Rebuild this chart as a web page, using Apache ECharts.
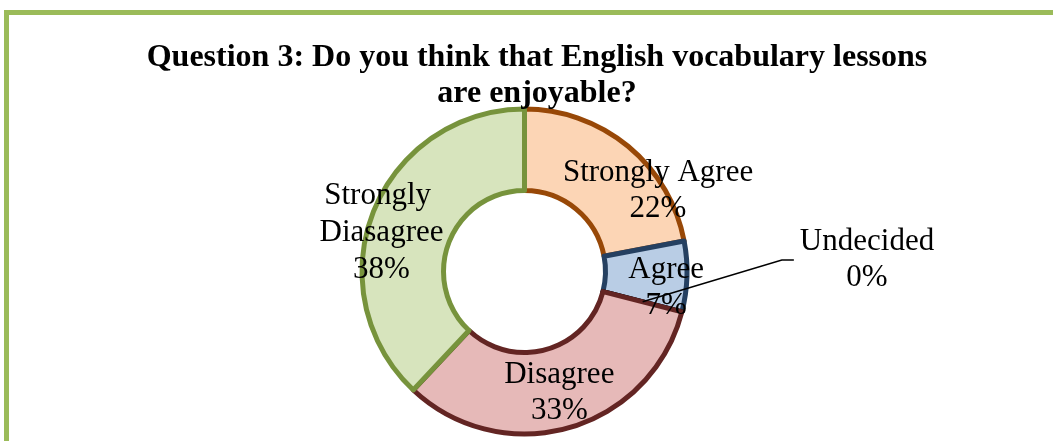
<!DOCTYPE html>
<html>
<head>
<meta charset="utf-8">
<script src="https://cdn.jsdelivr.net/npm/echarts@6/dist/echarts.min.js"></script>
<style>
  html, body { margin: 0; padding: 0; background: #ffffff; }
  #chart { width: 1053px; height: 441px; }
</style>
</head>
<body>
<div id="chart"></div>
<script>
// ---- data ----
const titleText = 'Question 3: Do you think that English vocabulary lessons\nare enjoyable?';
const categories = ['Strongly Agree', 'Agree', 'Undecided', 'Disagree', 'Strongly Diasagree'];
const values = [22, 7, 0, 33, 38];

// ---- styles ----
const fills = ['#FCD5B5', '#B9CDE5', '#FFFFFF', '#E6B9B8', '#D7E4BD'];
const borders = ['#984807', '#254061', '#000000', '#632523', '#77933C'];
const labelDx = [54, 17, 0, 0, -27];
const labelDy = [15, 12, 0, 2, 7];
const FONT = '"Liberation Serif", "Times New Roman", serif';

const mainData = categories.map((name, i) => ({
  name: name,
  value: values[i],
  itemStyle: { color: fills[i], borderColor: borders[i] },
  label: name === 'Strongly Diasagree'
    ? { show: true, width: 150, overflow: 'break', lineHeight: 37 }
    : { show: name !== 'Undecided' }
}));

const overlayData = categories.map((name, i) => ({
  name: name,
  value: values[i],
  label: { show: name === 'Undecided' },
  labelLine: { show: name === 'Undecided' }
}));

const chart = echarts.init(document.getElementById('chart'), null, { renderer: 'canvas' });
chart.setOption({
  backgroundColor: '#ffffff',
  animation: false,
  title: {
    text: titleText,
    left: 537,
    top: 40,
    textAlign: 'center',
    padding: 0,
    textStyle: {
      fontFamily: FONT,
      fontWeight: 'bold',
      fontSize: 32,
      lineHeight: 36,
      color: '#000000'
    }
  },
  graphic: [{
    type: 'rect',
    silent: true,
    shape: { x: 6.5, y: 12.5, width: 1200, height: 600 },
    style: { fill: 'none', stroke: '#9BBB59', lineWidth: 5 }
  }],
  series: [
    {
      type: 'pie',
      center: [524.5, 271.5],
      radius: [81, 162.5],
      startAngle: 90,
      clockwise: true,
      silent: true,
      avoidLabelOverlap: false,
      itemStyle: { borderWidth: 5 },
      label: {
        position: 'inside',
        formatter: '{b}\n{d}%',
        fontFamily: FONT,
        fontSize: 31,
        lineHeight: 36,
        color: '#000000',
        align: 'center'
      },
      labelLine: { show: false },
      labelLayout: function (p) {
        return { dx: labelDx[p.dataIndex], dy: labelDy[p.dataIndex] };
      },
      data: mainData
    },
    {
      type: 'pie',
      center: [524.5, 271.5],
      radius: [0, 122],
      startAngle: 90,
      clockwise: true,
      silent: true,
      z: 5,
      avoidLabelOverlap: false,
      itemStyle: { color: 'rgba(0,0,0,0)', borderWidth: 0 },
      label: {
        position: 'outside',
        formatter: '{b}\n{d}%',
        fontFamily: FONT,
        fontSize: 31,
        lineHeight: 36,
        color: '#000000',
        padding: [0, 6]
      },
      labelLine: {
        length: 10,
        length2: 12,
        lineStyle: { color: '#000000', width: 1.5 }
      },
      labelLayout: function (p) {
        return { x: 867, y: 260, align: 'center', verticalAlign: 'middle' };
      },
      data: overlayData
    }
  ]
});
</script>
</body>
</html>
